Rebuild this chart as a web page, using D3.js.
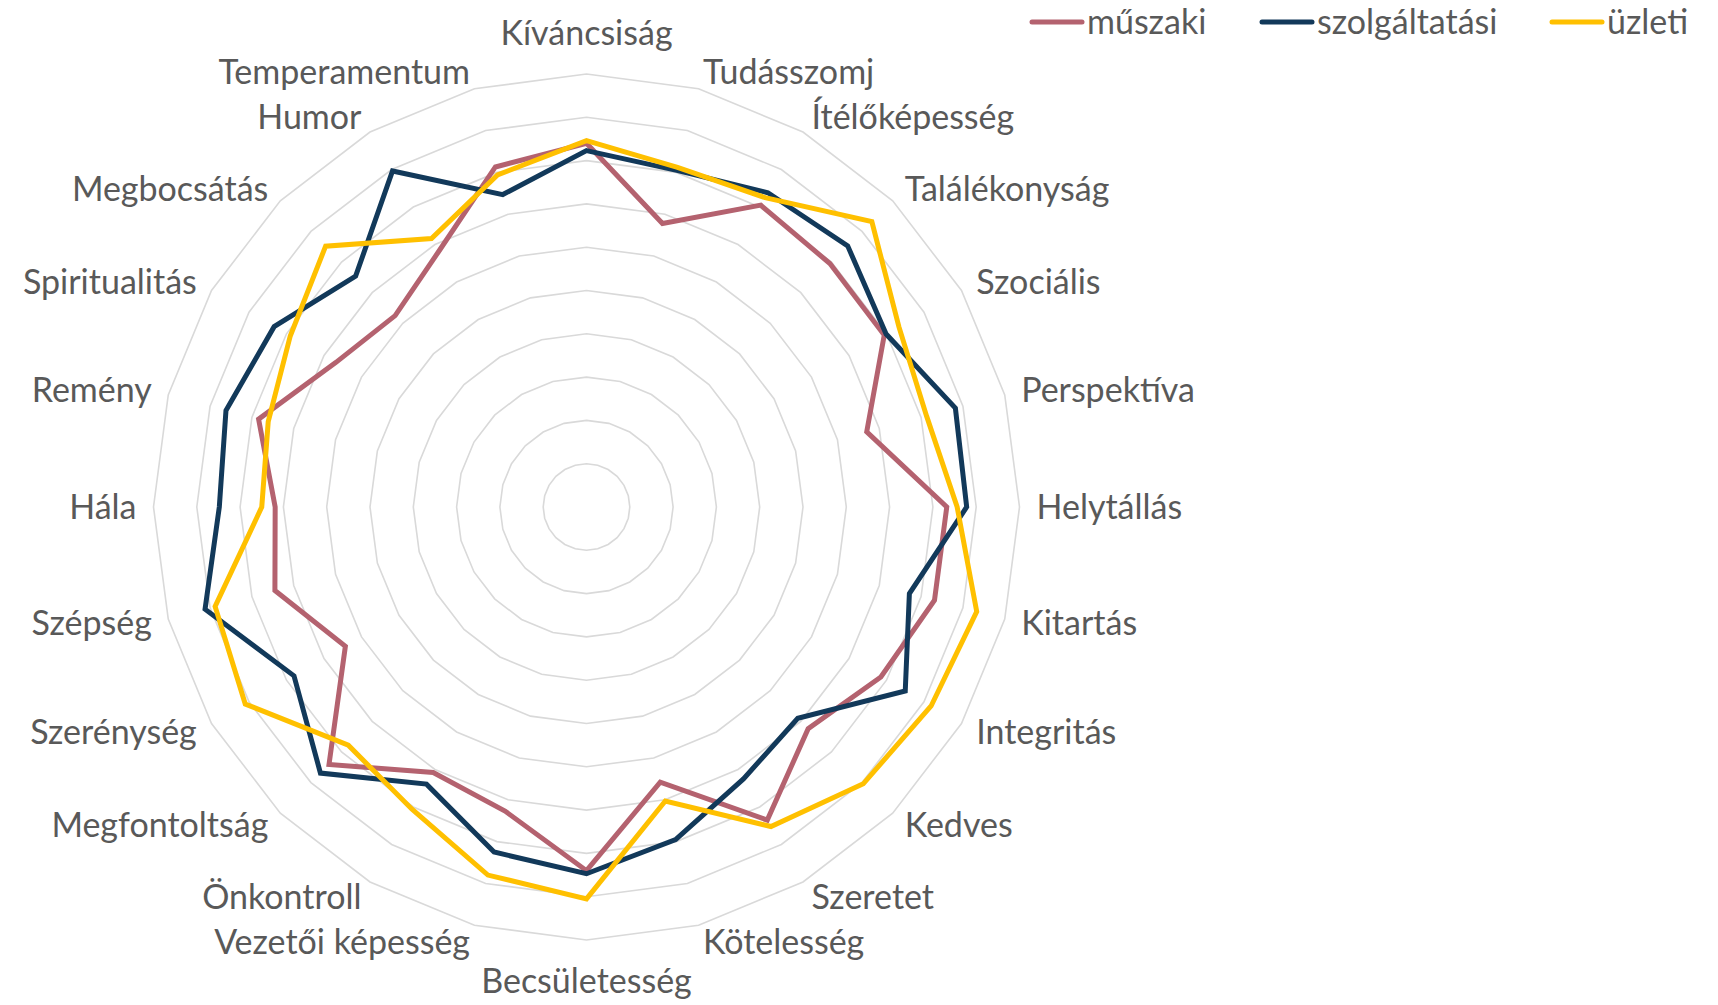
<!DOCTYPE html>
<html lang="hu">
<head>
    <meta charset="UTF-8">
    <title>Radar</title>
    <script src="https://d3js.org/d3.v7.min.js"></script>
    <style>
        body { margin: 0; background: #fff; font-family: Lato, "Open Sans", sans-serif; }
        .label { font-size: 34px; fill: #595959; }
        .legend-text { font-size: 34px; fill: #595959; }
    </style>
</head>
<body>
<svg width="1718" height="1005"></svg>
<script>
    const categories = ["Kíváncsiság", "Tudásszomj", "Ítélőképesség", "Találékonyság", "Szociális",
        "Perspektíva", "Helytállás", "Kitartás", "Integritás", "Kedves", "Szeretet", "Kötelesség",
        "Becsületesség", "Vezetői képesség", "Önkontroll", "Megfontoltság", "Szerénység", "Szépség",
        "Hála", "Remény", "Spiritualitás", "Megbocsátás", "Humor", "Temperamentum"];

    const muszaki = [8.4, 6.78, 8.05, 7.95, 7.94, 6.7, 8.32, 8.32, 7.85, 7.24, 8.35, 6.58,
        8.4, 7.27, 7.08, 8.41, 6.43, 7.45, 7.19, 7.84, 6.68, 6.25, 6.82, 8.13];
    const szolgaltatasi = [8.23, 8.05, 8.38, 8.53, 7.99, 8.82, 8.78, 7.72, 8.5, 6.9, 7.25, 7.95,
        8.47, 8.25, 7.39, 8.69, 7.8, 9.12, 8.48, 8.62, 8.33, 7.54, 8.96, 7.47];
    const uzleti = [8.46, 8.12, 8.25, 9.32, 8.33, 8.13, 8.56, 9.33, 9.19, 9.04, 8.52, 7.03,
        9.05, 8.8, 8.06, 7.78, 9.1, 8.88, 7.5, 7.61, 7.9, 8.52, 7.16, 7.94];

    const seriesNames = ["műszaki", "szolgáltatási", "üzleti"];
    const seriesColors = ["#B4626F", "#12395A", "#FFC000"];
    const gridSteps = d3.range(1, 11);

    const width = 1718, height = 1005;
    const cx = 586.5, cy = 507, outerR = 433;
    const svg = d3.select("svg");

    const r = d3.scaleLinear().domain([0, 10]).range([0, outerR]);
    const angle = d3.scaleLinear().domain([0, categories.length]).range([0, 2 * Math.PI]);

    const g = svg.append("g").attr("transform", `translate(${cx},${cy})`);

    // grid rings (24-gons)
    const ring = d3.lineRadial()
        .angle((d, i) => angle(i))
        .radius(d => r(d))
        .curve(d3.curveLinearClosed);

    g.selectAll(".grid")
        .data(gridSteps)
        .enter().append("path")
        .attr("class", "grid")
        .attr("d", s => ring(categories.map(() => s)))
        .attr("fill", "none")
        .attr("stroke", "#D9D9D9")
        .attr("stroke-width", 1.6);

    // series, drawn in legend order so üzleti ends up on top
    const series = [muszaki, szolgaltatasi, uzleti];
    g.selectAll(".series")
        .data(series)
        .enter().append("path")
        .attr("class", "series")
        .attr("d", d => ring(d))
        .attr("fill", "none")
        .attr("stroke", (d, i) => seriesColors[i])
        .attr("stroke-width", 5)
        .attr("stroke-linejoin", "miter");

    // category labels
    const labelR = 450;
    g.selectAll(".label")
        .data(categories)
        .enter().append("text")
        .attr("class", "label")
        .each(function(d, i) {
            const a = angle(i);
            const sx = Math.sin(a), sy = -Math.cos(a);
            let x = labelR * sx, y = labelR * sy;
            let anchor = "middle";
            if (sx > 0.01) anchor = "start";
            else if (sx < -0.01) anchor = "end";
            else y += (sy < 0 ? -24 : 24);
            d3.select(this)
                .attr("x", x)
                .attr("y", y)
                .attr("dy", "0.35em")
                .attr("text-anchor", anchor)
                .text(d);
        });

    // legend
    const legendX = [1030, 1260, 1550];
    const legend = svg.append("g").selectAll("g")
        .data(seriesNames)
        .enter().append("g")
        .attr("transform", (d, i) => `translate(${legendX[i]},22)`);

    legend.append("line")
        .attr("x1", 2).attr("x2", 52)
        .attr("stroke", (d, i) => seriesColors[i])
        .attr("stroke-width", 5)
        .attr("stroke-linecap", "round");

    legend.append("text")
        .attr("class", "legend-text")
        .attr("x", 57)
        .attr("dy", "0.36em")
        .text(d => d);
</script>
</body>
</html>
